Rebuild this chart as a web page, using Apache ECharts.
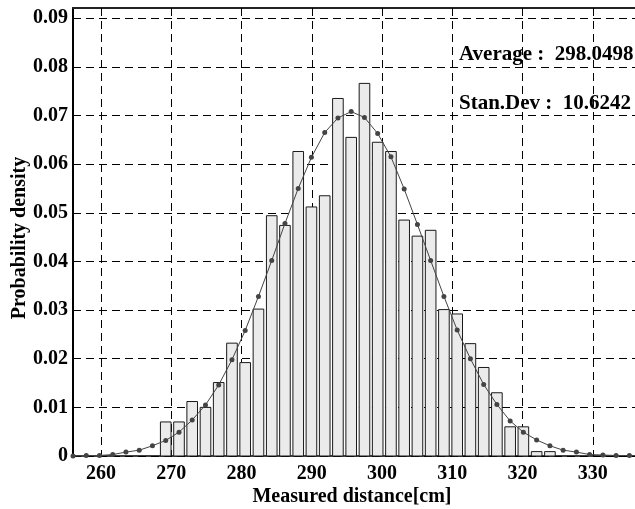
<!DOCTYPE html>
<html>
<head>
<meta charset="utf-8">
<script src="https://cdn.jsdelivr.net/npm/echarts@6/dist/echarts.min.js"></script>
<style>
  html, body { margin: 0; padding: 0; background: #fff; }
  #chart { width: 635px; height: 509px; }
</style>
</head>
<body>
<div id="chart"></div>
<script>
// Histogram bins: centre of each bin and its probability density
const binCenters = [
  269.20, 271.09, 272.97, 274.86, 276.74, 278.63, 280.51, 282.40, 284.29, 286.17,
  288.06, 289.94, 291.83, 293.71, 295.60, 297.49, 299.37, 301.26, 303.14, 305.03,
  306.91, 308.80, 310.69, 312.57, 314.46, 316.34, 318.23, 320.11, 322.00, 323.89
];
const binDensity = [
  0.0070, 0.0070, 0.0112, 0.0100, 0.0151, 0.0232, 0.0192, 0.0302, 0.0494, 0.0474,
  0.0626, 0.0512, 0.0535, 0.0735, 0.0655, 0.0766, 0.0645, 0.0626, 0.0485, 0.0452,
  0.0464, 0.0301, 0.0292, 0.0231, 0.0182, 0.0130, 0.0060, 0.0060, 0.0009, 0.0009
];

// Fitted normal curve, sampled points
const fitX = [
  256.00, 257.89, 259.77, 261.66, 263.54, 265.43, 267.31, 269.20, 271.09, 272.97,
  274.86, 276.74, 278.63, 280.51, 282.40, 284.29, 286.17, 288.06, 289.94, 291.83,
  293.71, 295.60, 297.49, 299.37, 301.26, 303.14, 305.03, 306.91, 308.80, 310.69,
  312.57, 314.46, 316.34, 318.23, 320.11, 322.00, 323.89, 325.77, 327.66, 329.54,
  331.43, 333.31, 335.20
];
const fitY = [
  0.0000, 0.0001, 0.0001, 0.0003, 0.0008, 0.0012, 0.0021, 0.0032, 0.0049, 0.0074,
  0.0105, 0.0146, 0.0198, 0.0258, 0.0328, 0.0402, 0.0478, 0.0550, 0.0614, 0.0665,
  0.0695, 0.0708, 0.0696, 0.0663, 0.0615, 0.0549, 0.0476, 0.0402, 0.0328, 0.0259,
  0.0200, 0.0147, 0.0106, 0.0072, 0.0049, 0.0033, 0.0021, 0.0012, 0.0008, 0.0003,
  0.0002, 0.0001, 0.0001
];

// Axis ticks
const xTicks = [260, 270, 280, 290, 300, 310, 320, 330];
const yTicks = [0, 0.01, 0.02, 0.03, 0.04, 0.05, 0.06, 0.07, 0.08, 0.09];

// Summary statistics shown in the corner
const statAverage = '298.0498';
const statStdDev = '10.6242';

const FONT = 'Liberation Serif, Times New Roman, serif';
const barFrac = 0.8;

const chart = echarts.init(document.getElementById('chart'), null, { renderer: 'canvas' });

const labelStyle = { fontFamily: FONT, fontWeight: 'bold', fontSize: 20, color: '#000' };
const dashed = { show: true, lineStyle: { color: '#000', width: 1, type: [8, 5] } };

chart.setOption({
  animation: false,
  backgroundColor: '#fff',
  grid: { left: 73, right: -5, top: 8, bottom: 53, containLabel: false },
  xAxis: [
    {
      type: 'value', min: 256, max: 336, position: 'bottom',
      axisLine: { show: true, onZero: false, lineStyle: { color: '#000', width: 1.5 } },
      axisTick: { show: true, inside: true, length: 5, customValues: xTicks, lineStyle: { color: '#000' } },
      axisLabel: Object.assign({ customValues: xTicks, margin: 8 }, labelStyle),
      splitLine: dashed
    },
    {
      type: 'value', min: 256, max: 336, position: 'top',
      axisLine: { show: true, onZero: false, lineStyle: { color: '#222', width: 2 } },
      axisTick: { show: true, inside: true, length: 5, customValues: xTicks, lineStyle: { color: '#000' } },
      axisLabel: { show: false },
      splitLine: { show: false }
    }
  ],
  yAxis: {
    type: 'value', min: 0, max: 0.0921,
    axisLine: { show: true, onZero: false, lineStyle: { color: '#000', width: 2 } },
    axisTick: { show: true, inside: true, length: 5, customValues: yTicks, lineStyle: { color: '#000' } },
    axisLabel: Object.assign({
      customValues: yTicks, margin: 5,
      formatter: v => (v === 0 ? '0' : v.toFixed(2))
    }, labelStyle),
    splitLine: dashed
  },
  series: [
    {
      type: 'custom',
      name: 'histogram',
      z: 2,
      data: binCenters.map((c, i) => [c, binDensity[i]]),
      renderItem: function (params, api) {
        const step = binCenters[1] - binCenters[0];
        const half = step * barFrac / 2;
        const x = api.value(0);
        const y = api.value(1);
        const p0 = api.coord([x - half, y]);
        const p1 = api.coord([x + half, 0]);
        return {
          type: 'rect',
          shape: { x: p0[0], y: p0[1], width: p1[0] - p0[0], height: p1[1] - p0[1] },
          style: { fill: '#ebebeb', stroke: '#1a1a1a', lineWidth: 1 }
        };
      }
    },
    {
      type: 'line',
      name: 'normal fit',
      z: 3,
      data: fitX.map((x, i) => [x, fitY[i]]),
      symbol: 'circle',
      symbolSize: 5,
      showSymbol: true,
      clip: false,
      lineStyle: { color: '#444', width: 1 },
      itemStyle: { color: '#444', borderWidth: 0 }
    }
  ],
  graphic: [
    {
      type: 'text', left: 459, top: 44, z: 10,
      style: { text: 'Average :  ' + statAverage, font: 'bold 21px ' + FONT, fill: '#000' }
    },
    {
      type: 'text', left: 459, top: 93, z: 10,
      style: { text: 'Stan.Dev :  ' + statStdDev, font: 'bold 21px ' + FONT, fill: '#000' }
    },
    {
      type: 'text', x: 352, y: 497, z: 10,
      style: { text: 'Measured distance[cm]', font: 'bold 20px ' + FONT, fill: '#000', align: 'center', verticalAlign: 'middle' }
    },
    {
      type: 'text', x: 20, y: 238, rotation: Math.PI / 2, z: 10,
      style: { text: 'Probability density', font: 'bold 20px ' + FONT, fill: '#000', align: 'center', verticalAlign: 'middle' }
    }
  ]
});
</script>
</body>
</html>
